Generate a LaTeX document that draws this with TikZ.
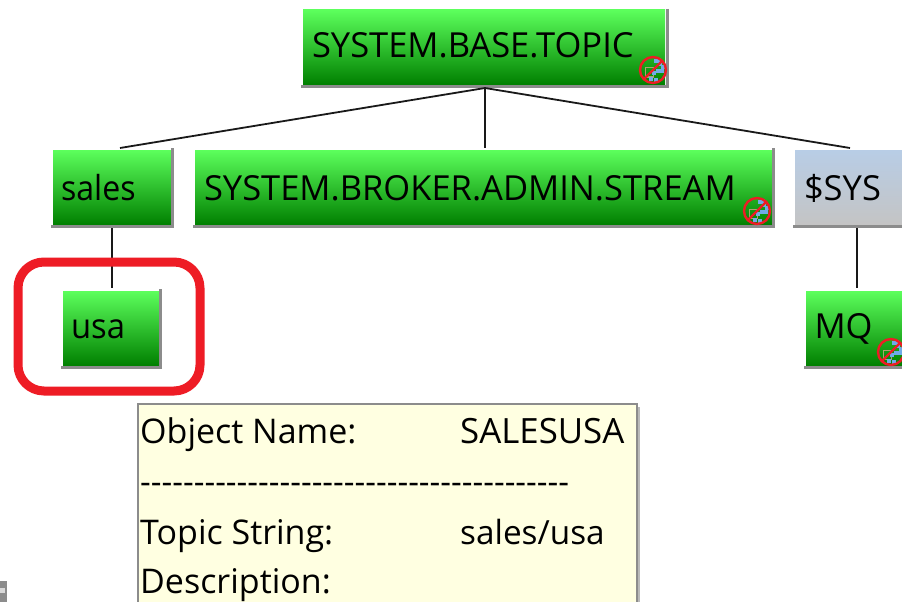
\documentclass[tikz,border=0pt]{standalone}
\usepackage{fontspec}
\setmainfont{Open Sans}
\newfontfamily\dashfont{Open Sans}
\definecolor{gtop}{HTML}{5CFF5C}
\definecolor{gbot}{HTML}{007F00}
\definecolor{btop}{HTML}{B8CDE6}
\definecolor{bbot}{HTML}{C4C4C4}
\definecolor{edgegray}{HTML}{8C8C8C}
\definecolor{hilite}{HTML}{EE1C25}
\definecolor{tipcolor}{HTML}{FFFFE1}
\definecolor{icoblue}{HTML}{3F8FE0}
\definecolor{icotan}{HTML}{B0A070}
\tikzset{
  x=1pt,y=-1pt,
  tnode/.style={anchor=north west,inner sep=0pt,outer sep=0pt,minimum height=75pt,text height=25pt,text depth=0pt,top color=gtop,bottom color=gbot,align=left,font=\fontsize{34.5}{35}\selectfont},
  sysnode/.style={tnode,top color=btop,bottom color=bbot},
  link/.style={draw=black!90,line width=1.8pt},
  rim/.style={draw=edgegray,line width=3pt},
  tiptext/.style={anchor=base west,inner sep=0pt,font=\fontsize{34}{34}\selectfont},
  noicon/.pic={
    \draw[icotan,line width=1pt] (-8,-2) rectangle (0,7);
    \foreach \a/\b in {3/-9,7/-6,10/-3,5/1,-2/9,3/10,9/1,6/-10,1/3}{\fill[icoblue!75!white] (\a-1.8,\b-1.8) rectangle (\a+1.8,\b+1.8);}
    \draw[hilite,line width=2.4pt] (0,0) circle (13);
    \draw[hilite,line width=2.4pt] (-9,9) -- (9,-9);
  }
}
\begin{document}
\begin{tikzpicture}
\useasboundingbox (0,0) rectangle (902,602);
\clip (0,0) rectangle (902,602);
\fill[white] (0,0) rectangle (902,602);
% boxes
\node[tnode,minimum width=362pt,text width=362pt] (top) at (303,10) {\hspace*{9pt}\raisebox{2pt}{SYSTEM.BASE.TOPIC}};
\node[tnode,minimum width=118pt,text width=118pt] (sales) at (53,150) {\hspace*{8pt}\scalebox{.93}[1]{sales}};
\node[tnode,minimum width=577pt,text width=577pt] (broker) at (195,150) {\hspace*{9pt}SYSTEM.BROKER.ADMIN.STREAM};
\node[sysnode,minimum width=130pt,text width=130pt] (sys) at (795,150) {\hspace*{9pt}\$SYS};
\node[tnode,minimum width=97pt,text width=97pt] (usa) at (63,291) {\hspace*{8pt}\raisebox{3pt}{\scalebox{.95}[1]{usa}}};
\node[tnode,minimum width=120pt,text width=120pt] (mq) at (806,291) {\hspace*{8.5pt}\raisebox{3pt}{MQ}};
\draw[rim] (667,9) -- (667,86) -- (301,86);
\draw[rim] (172,148) -- (172,226) -- (51,226);
\draw[rim] (773,148) -- (773,226) -- (193,226);
\draw[rim] (793,226) -- (902,226);
\draw[rim] (160,289) -- (160,367) -- (61,367);
\draw[rim] (804,367) -- (902,367);
% status icons
\pic at (653,70) {noicon};
\pic at (757,211) {noicon};
\pic at (891,352) {noicon};
% connectors
\coordinate (hub) at (485,88);
\coordinate (salesin) at (120,148);
\coordinate (brokerin) at (485,148);
\coordinate (sysin) at (850,148);
\coordinate (salesout) at (112,228);
\coordinate (usain) at (112,288);
\coordinate (sysout) at (857,228);
\coordinate (mqin) at (857,288);
\draw[link] (hub) -- (salesin);
\draw[link] (hub) -- (brokerin);
\draw[link] (hub) -- (sysin);
\draw[link] (salesout) -- (usain);
\draw[link] (sysout) -- (mqin);
% highlight
\draw[hilite,line width=9pt,rounded corners=26pt] (18,262) rectangle (200,391);
% tooltip
\fill[edgegray!60] (637,407) rectangle (640,602);
\draw[edgegray,line width=2pt,fill=tipcolor] (138,404) rectangle (637,610);
\node[tiptext] (l1) at (140,443) {Object Name:};
\node[tiptext,font=\fontsize{34.8}{34}\selectfont] (v1) at (460,443) {SALESUSA};
\node[tiptext] (l2) at (140,493) {\fontsize{33.3}{34}\selectfont\dashfont ----------------------------------------};
\node[tiptext] (l3) at (140,544) {Topic String:};
\node[tiptext,font=\fontsize{33.3}{34}\selectfont] (v3) at (460,544) {sales/usa};
\node[tiptext] (l4) at (140,593) {Description:};
% fragment at lower left
\fill[black!45] (0,581) rectangle (7,602);
\fill[black!15] (0,588) rectangle (5,593);
\end{tikzpicture}
\end{document}
